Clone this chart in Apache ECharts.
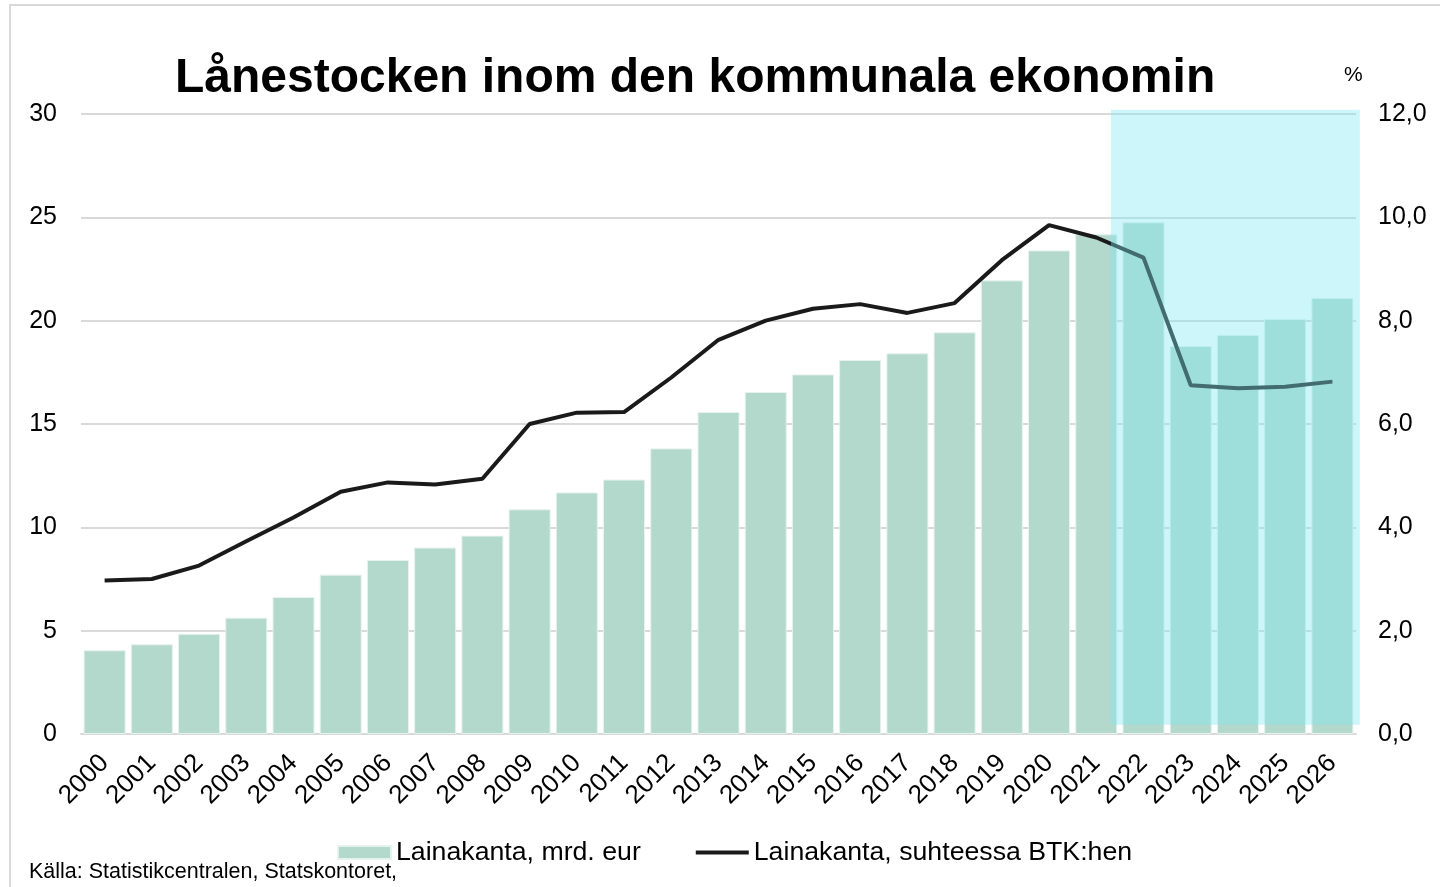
<!DOCTYPE html>
<html>
<head>
<meta charset="utf-8">
<script src="https://cdn.jsdelivr.net/npm/echarts@6/dist/echarts.min.js"></script>
<style>html,body{margin:0;padding:0;background:#fff;}#c{width:1440px;height:887px;}</style>
</head>
<body>
<div id="c"></div>
<script>
const years = ['2000','2001','2002','2003','2004','2005','2006','2007','2008','2009','2010','2011','2012','2013','2014','2015','2016','2017','2018','2019','2020','2021','2022','2023','2024','2025','2026'];
const loanStock = [4.05,4.34,4.85,5.63,6.63,7.71,8.42,9.02,9.6,10.87,11.69,12.31,13.82,15.58,16.55,17.4,18.1,18.42,19.44,21.95,23.4,24.18,24.76,18.77,19.31,20.08,21.1];
const loanToGdp = [2.97,3.0,3.26,3.73,4.19,4.69,4.87,4.83,4.94,6.0,6.22,6.23,6.9,7.63,8.0,8.23,8.32,8.15,8.34,9.17,9.85,9.61,9.22,6.75,6.69,6.72,6.82];
const leftTicks = [0, 30, 5];
const rightTicks = [0, 12, 2];
// forecast shading, in (category position, left-axis value) units
const forecastArea = [[21.81, 30.2], [27.08, 0.45]];
const titleText = 'Lånestocken inom den kommunala ekonomin';
const seriesNames = ['Lainakanta, mrd. eur', 'Lainakanta, suhteessa BTK:hen'];
const sourceText = 'Källa: Statistikcentralen, Statskontoret,';

const chart = echarts.init(document.getElementById('c'));
const font = 'Liberation Sans, Arial, sans-serif';
const baseGraphics = [
  { id: 'frame', type: 'rect', shape: { x: 10, y: 5, width: 1460, height: 900 }, style: { fill: 'none', stroke: '#d9d9d9', lineWidth: 2 }, silent: true },
  { id: 'src', type: 'text', left: 29, top: 861, style: { text: sourceText, fontSize: 21.5, fill: '#000', fontFamily: font } },
  { id: 'pct', type: 'text', left: 1344, top: 65, style: { text: '%', fontSize: 21, fill: '#000', fontFamily: font } }
];
chart.setOption({
  animation: false,
  backgroundColor: '#fff',
  textStyle: { fontFamily: font },
  title: {
    text: titleText, left: 170, top: 50,
    textStyle: { fontSize: 48, fontWeight: 'bold', color: '#000', fontFamily: font }
  },
  graphic: baseGraphics,
  legend: {
    bottom: 16, left: 332, itemGap: 55,
    itemWidth: 53, itemHeight: 13,
    textStyle: { fontSize: 26.7, color: '#000', fontFamily: font, padding: [0, 0, 0, 0] },
    data: [
      { name: seriesNames[0], icon: 'rect' },
      { name: seriesNames[1], icon: 'path://M0,0 L53,0 L53,4 L0,4 Z', itemStyle: { color: '#1a1a1a' } }
    ]
  },
  grid: { left: 81, right: 84, top: 114, bottom: 153 },
  xAxis: [
    {
      type: 'category', data: years,
      axisLine: { lineStyle: { color: '#d9d9d9', width: 2 } },
      axisTick: { show: false },
      axisLabel: { rotate: 45, fontSize: 26, color: '#000', margin: 25, interval: 0 }
    },
    { type: 'value', min: 0, max: 27, show: false }
  ],
  yAxis: [
    {
      type: 'value', min: leftTicks[0], max: leftTicks[1], interval: leftTicks[2],
      axisLine: { show: false }, axisTick: { show: false },
      splitLine: { lineStyle: { color: '#d9d9d9', width: 2 } },
      axisLabel: { fontSize: 25, color: '#000', margin: 24 }
    },
    {
      type: 'value', min: rightTicks[0], max: rightTicks[1], interval: rightTicks[2],
      axisLine: { show: false }, axisTick: { show: false }, splitLine: { show: false },
      axisLabel: { fontSize: 25, color: '#000', margin: 22, formatter: v => v.toFixed(1).replace('.', ',') }
    }
  ],
  series: [
    {
      name: seriesNames[0], type: 'bar', data: loanStock, barCategoryGap: '11%', z: 2,
      itemStyle: { color: '#b3d8cc', borderColor: '#e6f2ee', borderWidth: 1 }
    },
    {
      name: seriesNames[1], type: 'line', yAxisIndex: 1, data: loanToGdp, z: 3,
      showSymbol: false, symbol: 'none',
      lineStyle: { color: '#1a1a1a', width: 4 }, itemStyle: { color: '#1a1a1a' }
    }
  ]
});
const p0 = chart.convertToPixel({ xAxisIndex: 1, yAxisIndex: 0 }, forecastArea[0]);
const p1 = chart.convertToPixel({ xAxisIndex: 1, yAxisIndex: 0 }, forecastArea[1]);
chart.setOption({
  graphic: baseGraphics.concat([{
    id: 'forecast', type: 'rect', z: 100, silent: true,
    shape: { x: p0[0], y: p0[1], width: p1[0] - p0[0], height: p1[1] - p0[1] },
    style: { fill: 'rgba(127,232,242,0.4)' }
  }])
});
</script>
</body>
</html>
